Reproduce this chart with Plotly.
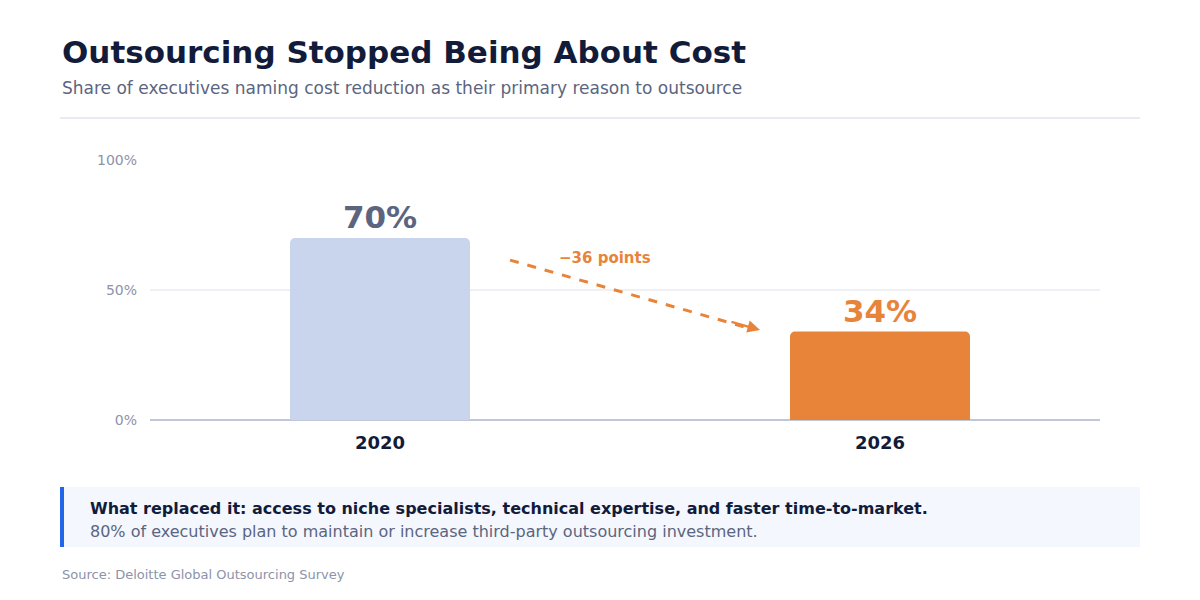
import plotly.graph_objects as go

years = ["2020", "2026"]
shares = [70, 34]
bar_colors = ["#c9d5ec", "#e8843a"]
label_colors = ["#5b6580", "#e8843a"]
y_ticks = [0, 50, 100]
y_tick_labels = ["0%", "50%", "100%"]
change_label = "\u221236 points"

W, H = 1200, 600
FONT = "DejaVu Sans"
xs = list(range(len(years)))

# paper refs are relative to the plot area (screen px 150..1100, 160..420)
def px(x):
    return (x - 150) / 950

def py(y):
    return (420 - y) / 260

fig = go.Figure()
fig.add_trace(go.Bar(
    x=xs, y=shares, width=0.36, marker_color=bar_colors,
    marker_line_width=0, hoverinfo="skip",
    text=[f"<b>{v}%</b>" for v in shares], textposition="outside",
    textfont=dict(size=31, color=label_colors, family=FONT),
    cliponaxis=False,
))

# dashed trend arrow
fig.add_shape(type="line", x0=0.26, y0=61.5, x1=0.74, y1=35.2,
              line=dict(color="#e8843a", width=3, dash="dash"), xref="x", yref="y")
fig.add_annotation(x=0.76, y=34.6, ax=0.70, ay=37.9, xref="x", yref="y",
                   axref="x", ayref="y", text="", showarrow=True,
                   arrowhead=2, arrowsize=1, arrowwidth=2.5, arrowcolor="#e8843a")
fig.add_annotation(x=0.45, y=62.5, xref="x", yref="y", text=f"<b>{change_label}</b>",
                   showarrow=False, font=dict(size=15, color="#e8843a", family=FONT))

# header
fig.add_annotation(x=px(60), y=py(52), xref="paper", yref="paper", xanchor="left", yanchor="middle",
                   text="<b>Outsourcing Stopped Being About Cost</b>", showarrow=False,
                   font=dict(size=31, color="#121c3a", family=FONT))
fig.add_annotation(x=px(60), y=py(88), xref="paper", yref="paper", xanchor="left", yanchor="middle",
                   text="Share of executives naming cost reduction as their primary reason to outsource",
                   showarrow=False, font=dict(size=17, color="#5b6580", family=FONT))
fig.add_shape(type="line", xref="paper", yref="paper", x0=px(60), x1=px(1140), y0=py(118), y1=py(118),
              line=dict(color="#e3e5ee", width=1.5))

# callout box
fig.add_shape(type="rect", xref="paper", yref="paper", x0=px(60), x1=px(1140), y0=py(547), y1=py(487),
              fillcolor="#f4f7fd", line_width=0, layer="below")
fig.add_shape(type="rect", xref="paper", yref="paper", x0=px(60), x1=px(64), y0=py(547), y1=py(487),
              fillcolor="#2166e8", line_width=0)
fig.add_annotation(x=px(88), y=py(508), xref="paper", yref="paper", xanchor="left", yanchor="middle",
                   text="<b>What replaced it: access to niche specialists, technical expertise, and faster time-to-market.</b>",
                   showarrow=False, font=dict(size=16, color="#121c3a", family=FONT))
fig.add_annotation(x=px(88), y=py(531), xref="paper", yref="paper", xanchor="left", yanchor="middle",
                   text="80% of executives plan to maintain or increase third-party outsourcing investment.",
                   showarrow=False, font=dict(size=16, color="#5b6580", family=FONT))
fig.add_annotation(x=px(60), y=py(574), xref="paper", yref="paper", xanchor="left", yanchor="middle",
                   text="Source: Deloitte Global Outsourcing Survey", showarrow=False,
                   font=dict(size=13, color="#8c93aa", family=FONT))

fig.update_layout(
    width=W, height=H, margin=dict(l=142, r=108, t=152, b=188),
    paper_bgcolor="white", plot_bgcolor="white", showlegend=False,
    barcornerradius=5, font=dict(family=FONT),
    xaxis=dict(range=[-0.46, 1.44], tickvals=xs, ticktext=[f"<b>{y}</b>" for y in years],
               tickfont=dict(size=18, color="#121c3a"), showgrid=False, zeroline=False,
               showline=False, ticks="", ticklabelstandoff=10, fixedrange=True),
    yaxis=dict(range=[0, 100], tickvals=y_ticks, ticktext=y_tick_labels,
               tickfont=dict(size=14, color="#8c93aa"), gridcolor="#eef0f6", gridwidth=1.5,
               zeroline=True, zerolinecolor="#c0c7d8", zerolinewidth=1.5,
               ticks="", ticklabelstandoff=12, fixedrange=True),
)

fig.write_html("out.html")
